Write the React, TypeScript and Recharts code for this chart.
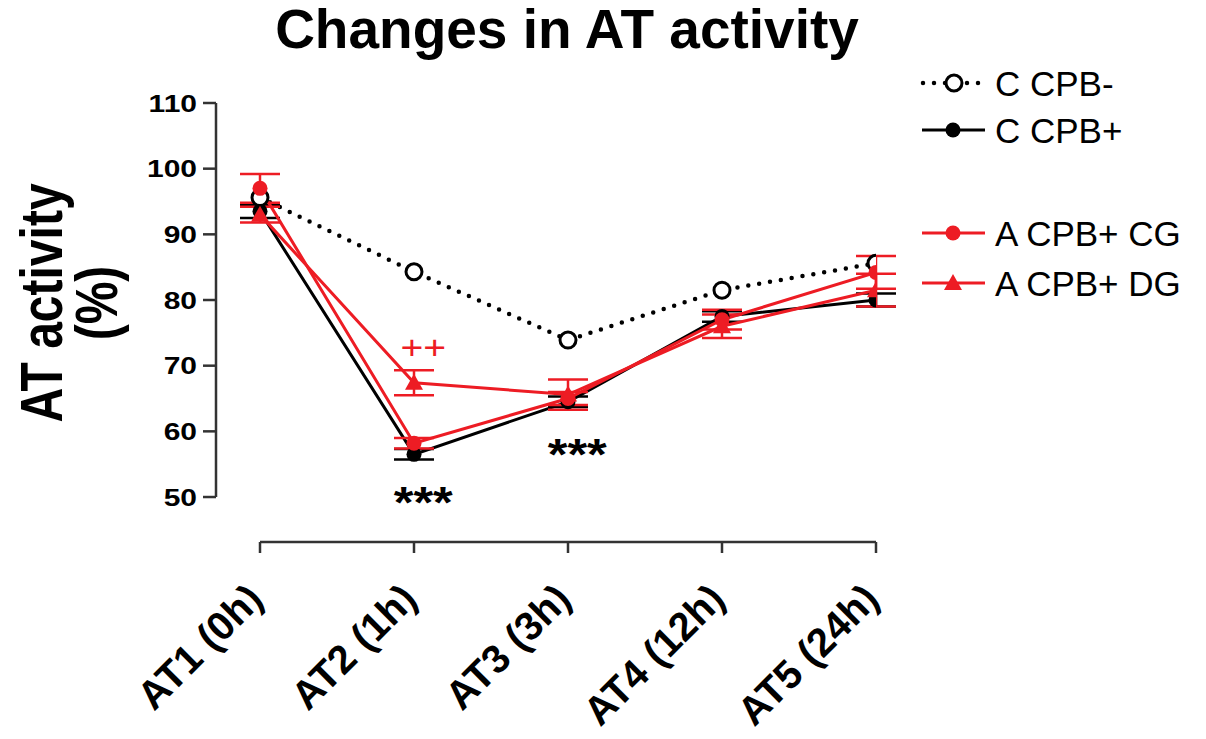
import React from 'react'
import {ComposedChart, Line, XAxis, YAxis, ErrorBar, ReferenceLine, Scatter} from 'recharts'

const categories = ['AT1 (0h)', 'AT2 (1h)', 'AT3 (3h)', 'AT4 (12h)', 'AT5 (24h)']
const cCpbMinus = [95.6, 84.3, 73.9, 81.5, 85.6]
const cCpbPlus = [93.5, 56.5, 64.5, 77.5, 80.0]
const cCpbPlusErr = [1.0, 0.8, 0.8, 0.8, 1.0]
const aCpbCG = [97.0, 58.2, 65.0, 77.0, 84.2]
const aCpbCGErr = [2.2, 0.8, 1.0, 1.5, 2.5]
const aCpbDG = [93.0, 67.4, 65.6, 76.0, 81.5]
const aCpbDGErr = [1.2, 1.9, 2.3, 1.8, 2.5]
const yTicks = [50, 60, 70, 80, 90, 100, 110]

// significance marks: x as category index, y in %
const annotations = [
  {idx: 1.06, value: 50.6, text: '***', kind: 'ctrl'},
  {idx: 2.06, value: 57.9, text: '***', kind: 'ctrl'},
  {idx: 1.06, value: 72.7, text: '++', kind: 'dg'},
]

const legendItems = [
  {label: 'C CPB-', marker: 'open'},
  {label: 'C CPB+', marker: 'black'},
  {label: 'A CPB+ CG', marker: 'redCircle'},
  {label: 'A CPB+ DG', marker: 'redTriangle'},
]

const data = categories.map((c, i) => ({
  idx: i,
  name: c,
  cMinus: cCpbMinus[i],
  cPlus: cCpbPlus[i],
  cPlusErr: cCpbPlusErr[i],
  cg: aCpbCG[i],
  cgErr: aCpbCGErr[i],
  dg: aCpbDG[i],
  dgErr: aCpbDGErr[i],
}))

const RED = '#ed1c24'
const FONT = '"Liberation Sans", Arial, sans-serif'
const X_MIN = -44 / 154
const Y_MIN = 43.15

const openDot = (p) => <circle key={`o-${p.index}`} cx={p.cx} cy={p.cy} r={8} fill="#fff" stroke="#000" strokeWidth={3} />
const blackDot = (p) => <circle key={`b-${p.index}`} cx={p.cx} cy={p.cy} r={7.5} fill="#000" />
const redDot = (p) => <circle key={`r-${p.index}`} cx={p.cx} cy={p.cy} r={7.5} fill={RED} />
const triDot = (p) => (
  <polygon key={`t-${p.index}`} fill={RED}
    points={`${p.cx},${p.cy - 9} ${p.cx - 9},${p.cy + 7} ${p.cx + 9},${p.cy + 7}`} />
)

const XTick = ({x, y, payload}) => (
  <g transform={`translate(${x + 5},${y + 4})`}>
    <text transform="rotate(-45)" textAnchor="end" fontSize={40} fontWeight="bold" fontFamily={FONT} fill="#000">
      {categories[payload.value]}
    </text>
  </g>
)

const YTick = ({x, y, payload}) => (
  <g transform={`translate(${x},${y})`}>
    <text transform="scale(1.25,1)" textAnchor="end" dy={8.6} fontSize={24} fontWeight="bold" fontFamily={FONT} fill="#000">
      {payload.value}
    </text>
  </g>
)

const AnnotationShape = ({cx, cy, payload}) => {
  const fs = payload.kind === 'dg' ? 34 : 44
  const shift = payload.kind === 'dg' ? 0.33 * fs : 0.57 * fs
  return (
    <g transform={`translate(${cx},${cy + shift})`}>
      <text transform="scale(1.15,1)" textAnchor="middle" fontSize={fs} fontFamily={FONT}
        fontWeight={payload.kind === 'dg' ? 'normal' : 'bold'}
        fill={payload.kind === 'dg' ? RED : '#000'}>
        {payload.text}
      </text>
    </g>
  )
}

const legendRowsY = [28, 75, 178, 228]

const ChartLegend = () => (
  <svg width={290} height={260} style={{position: 'absolute', left: 915, top: 55}}>
    {legendItems.map((item, i) => {
      const cy = legendRowsY[i]
      const color = item.marker === 'open' || item.marker === 'black' ? '#000' : RED
      return (
        <g key={item.label}>
          {item.marker === 'open'
            ? <line x1={8} x2={70} y1={cy} y2={cy} stroke="#000" strokeWidth={4.5} strokeDasharray="0 11" strokeLinecap="round" />
            : <line x1={7} x2={70} y1={cy} y2={cy} stroke={color} strokeWidth={3} />}
          {item.marker === 'open' && <circle cx={39} cy={cy} r={8} fill="#fff" stroke="#000" strokeWidth={3} />}
          {item.marker === 'black' && <circle cx={38} cy={cy} r={7.5} fill="#000" />}
          {item.marker === 'redCircle' && <circle cx={38} cy={cy} r={7.5} fill={RED} />}
          {item.marker === 'redTriangle' && <polygon fill={RED} points={`38,${cy - 9} 29,${cy + 7} 47,${cy + 7}`} />}
          <text x={80} y={cy + 12.5} fontSize={35} fontFamily={FONT} fill="#000">{item.label}</text>
        </g>
      )
    })}
  </svg>
)

export default function App() {
  return (
    <div style={{position: 'absolute', left: 0, top: 0, width: 1206, height: 739, background: '#fff'}}>
      <ComposedChart width={1206} height={739} data={data}
        margin={{top: 103, right: 330, bottom: 37, left: 126}}>
        <XAxis dataKey="idx" type="number" domain={[X_MIN, 4]} ticks={[0, 1, 2, 3, 4]} allowDataOverflow
          axisLine={false} tickLine={{stroke: '#333', strokeWidth: 2.5}} tickSize={11} tickMargin={44}
          tick={<XTick />} height={160} interval={0} />
        <YAxis type="number" domain={[Y_MIN, 110]} ticks={yTicks} allowDataOverflow axisLine={false}
          tickLine={{stroke: '#333', strokeWidth: 2.5}} tickSize={13} tickMargin={6} tick={<YTick />} width={90} interval={0} />
        <ReferenceLine segment={[{x: X_MIN, y: 50}, {x: X_MIN, y: 110}]} stroke="#333" strokeWidth={2.5} ifOverflow="visible" />
        <ReferenceLine segment={[{x: 0, y: Y_MIN}, {x: 4, y: Y_MIN}]} stroke="#333" strokeWidth={2.5} ifOverflow="visible" />
        <Line dataKey="cPlus" name="C CPB+" stroke="#000" strokeWidth={3} dot={blackDot} activeDot={false} isAnimationActive={false}>
          <ErrorBar dataKey="cPlusErr" direction="y" width={20} stroke="#000" strokeWidth={2.5} />
        </Line>
        <Line dataKey="cMinus" name="C CPB-" stroke="#000" strokeWidth={4.5} strokeDasharray="0 11" strokeLinecap="round"
          dot={openDot} activeDot={false} isAnimationActive={false} />
        <Line dataKey="cg" name="A CPB+ CG" stroke={RED} strokeWidth={3} dot={redDot} activeDot={false} isAnimationActive={false}>
          <ErrorBar dataKey="cgErr" direction="y" width={20} stroke={RED} strokeWidth={2.5} />
        </Line>
        <Line dataKey="dg" name="A CPB+ DG" stroke={RED} strokeWidth={3} dot={triDot} activeDot={false} isAnimationActive={false}>
          <ErrorBar dataKey="dgErr" direction="y" width={20} stroke={RED} strokeWidth={2.5} />
        </Line>
        <Scatter data={annotations} dataKey="value" shape={<AnnotationShape />} isAnimationActive={false} legendType="none" />
      </ComposedChart>
      <div style={{position: 'absolute', left: 0, width: 1134, top: 2, textAlign: 'center', fontFamily: FONT,
        fontWeight: 'bold', fontSize: 55, lineHeight: '55px', color: '#000'}}>
        Changes in AT activity
      </div>
      <div style={{position: 'absolute', left: 69, top: 303, width: 320, height: 90, fontFamily: FONT, fontWeight: 'bold',
        fontSize: 48, lineHeight: '45px', textAlign: 'center', color: '#000',
        transform: 'translate(-50%,-50%) rotate(-90deg) scaleY(1.22)'}}>
        <div>AT activity</div>
        <div>(%)</div>
      </div>
      <ChartLegend />
    </div>
  )
}
